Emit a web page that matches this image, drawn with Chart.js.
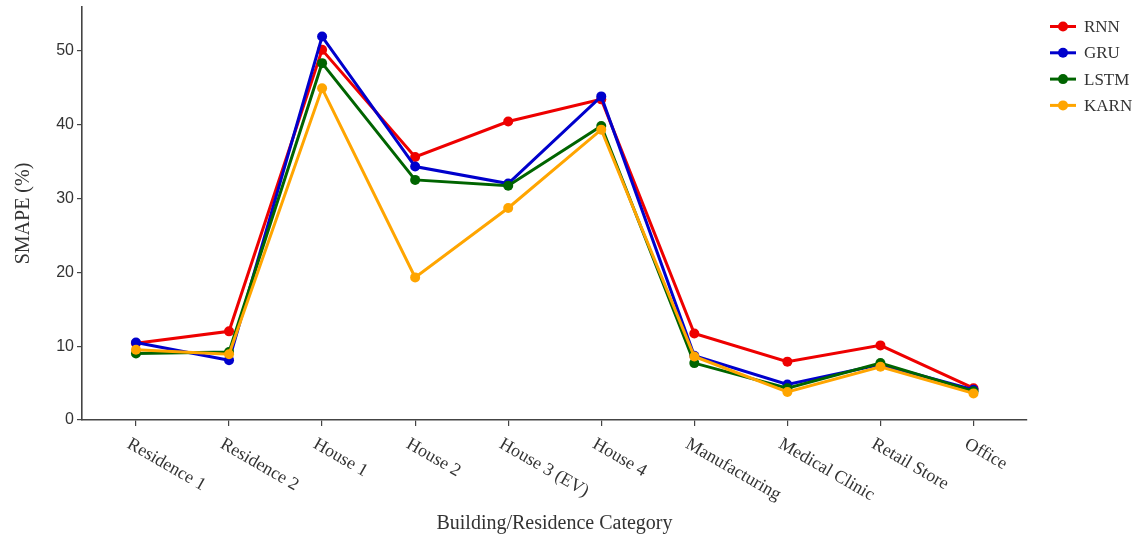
<!DOCTYPE html>
<html>
<head>
<meta charset="utf-8">
<script src="https://cdn.jsdelivr.net/npm/chart.js@4.4.1/dist/chart.umd.min.js"></script>
<style>
  html, body { margin: 0; padding: 0; background: #ffffff; }
  #wrap { width: 1139px; height: 536px; position: relative; }
</style>
</head>
<body>
<div id="wrap"><canvas id="chart"></canvas></div>
<script>
// Building / residence categories along the x axis
const categories = ['Residence 1', 'Residence 2', 'House 1', 'House 2', 'House 3 (EV)',
                    'House 4', 'Manufacturing', 'Medical Clinic', 'Retail Store', 'Office'];

// SMAPE (%) per model
const rnn  = [10.4, 12.0, 50.1, 35.6, 40.4, 43.4, 11.7, 7.9, 10.1, 4.3];
const gru  = [10.5,  8.1, 51.9, 34.3, 32.0, 43.8,  8.7, 4.8,  7.5, 4.1];
const lstm = [ 9.0,  9.2, 48.3, 32.5, 31.7, 39.8,  7.7, 4.3,  7.7, 3.9];
const karn = [ 9.5,  8.9, 44.9, 19.3, 28.7, 39.3,  8.6, 3.8,  7.2, 3.6];

const yTicks = [0, 10, 20, 30, 40, 50];

const seriesNames  = ['RNN', 'GRU', 'LSTM', 'KARN'];
const seriesValues = [rnn, gru, lstm, karn];
const seriesColors = ['#ee0000', '#0000cc', '#006400', '#ffa500'];

const AXIS = '#444444';
const TEXT = '#333333';
const SERIF = '"Liberation Serif", "DejaVu Serif", serif';
const SANS = '"Liberation Sans", "DejaVu Sans", sans-serif';

const datasets = seriesNames.map((name, s) => ({
  label: name,
  data: seriesValues[s].map((v, i) => ({ x: i, y: v })),
  borderColor: seriesColors[s],
  backgroundColor: seriesColors[s],
  pointBackgroundColor: seriesColors[s],
  pointBorderColor: seriesColors[s],
  borderWidth: 3,
  pointRadius: 5,
  pointBorderWidth: 0,
  tension: 0,
  order: seriesNames.length - s
}));

// Rotated category labels that start at each tick and run down to the right
const categoryLabels = {
  id: 'categoryLabels',
  afterDraw(chart) {
    const { ctx, scales: { x }, chartArea } = chart;
    ctx.save();
    ctx.fillStyle = TEXT;
    ctx.font = '18px ' + SERIF;
    ctx.textAlign = 'left';
    ctx.textBaseline = 'top';
    categories.forEach((label, i) => {
      const px = x.getPixelForValue(i);
      ctx.save();
      ctx.translate(px - 3, chartArea.bottom + 15);
      ctx.rotate(30 * Math.PI / 180);
      ctx.fillText(label, 0, 0);
      ctx.restore();
    });
    ctx.restore();
  }
};

// Legend on the right: line sample with a dot, then the series name
const sideLegend = {
  id: 'sideLegend',
  afterDraw(chart) {
    const { ctx } = chart;
    ctx.save();
    ctx.font = '17px ' + SERIF;
    ctx.textAlign = 'left';
    ctx.textBaseline = 'middle';
    chart.data.datasets.forEach((ds, i) => {
      const y = 26.5 + i * 26.3;
      ctx.strokeStyle = ds.borderColor;
      ctx.lineWidth = 3;
      ctx.beginPath();
      ctx.moveTo(1050, y);
      ctx.lineTo(1076, y);
      ctx.stroke();
      ctx.fillStyle = ds.borderColor;
      ctx.beginPath();
      ctx.arc(1063, y, 5, 0, Math.PI * 2);
      ctx.fill();
      ctx.fillStyle = TEXT;
      ctx.fillText(ds.label, 1084, y + 1);
    });
    ctx.restore();
  }
};

new Chart(document.getElementById('chart'), {
  type: 'line',
  data: { datasets },
  plugins: [categoryLabels, sideLegend],
  options: {
    responsive: true,
    maintainAspectRatio: false,
    animation: false,
    layout: { padding: { left: 0, top: 7, right: 112, bottom: 0 } },
    plugins: {
      legend: { display: false },
      tooltip: { enabled: false }
    },
    scales: {
      x: {
        type: 'linear',
        min: -0.58,
        max: 9.575,
        afterBuildTicks(scale) {
          scale.ticks = categories.map((_, i) => ({ value: i }));
        },
        afterFit(scale) {
          scale.height = 116;
          scale.paddingLeft = 0;
          scale.paddingRight = 0;
        },
        grid: { display: true, drawOnChartArea: false, drawTicks: true, tickLength: 6, color: AXIS, lineWidth: 1.2 },
        border: { display: true, color: AXIS, width: 1.6 },
        ticks: { display: false },
        title: {
          display: true,
          text: 'Building/Residence Category',
          color: TEXT,
          font: { family: SERIF, size: 20 },
          padding: { top: 0, bottom: 0 }
        }
      },
      y: {
        type: 'linear',
        min: 0,
        max: 55.9,
        afterBuildTicks(scale) {
          scale.ticks = yTicks.map(v => ({ value: v }));
        },
        afterFit(scale) {
          scale.width = 82;
          scale.paddingTop = 0;
          scale.paddingBottom = 0;
        },
        grid: { display: true, drawOnChartArea: false, drawTicks: true, tickLength: 5, color: AXIS, lineWidth: 1.2 },
        border: { display: true, color: AXIS, width: 1.6 },
        ticks: {
          color: TEXT,
          padding: 3,
          font: { family: SANS, size: 16 }
        },
        title: {
          display: true,
          text: 'SMAPE (%)',
          color: TEXT,
          font: { family: SERIF, size: 20 },
          padding: { top: 12, bottom: 0 }
        }
      }
    }
  }
});
</script>
</body>
</html>
